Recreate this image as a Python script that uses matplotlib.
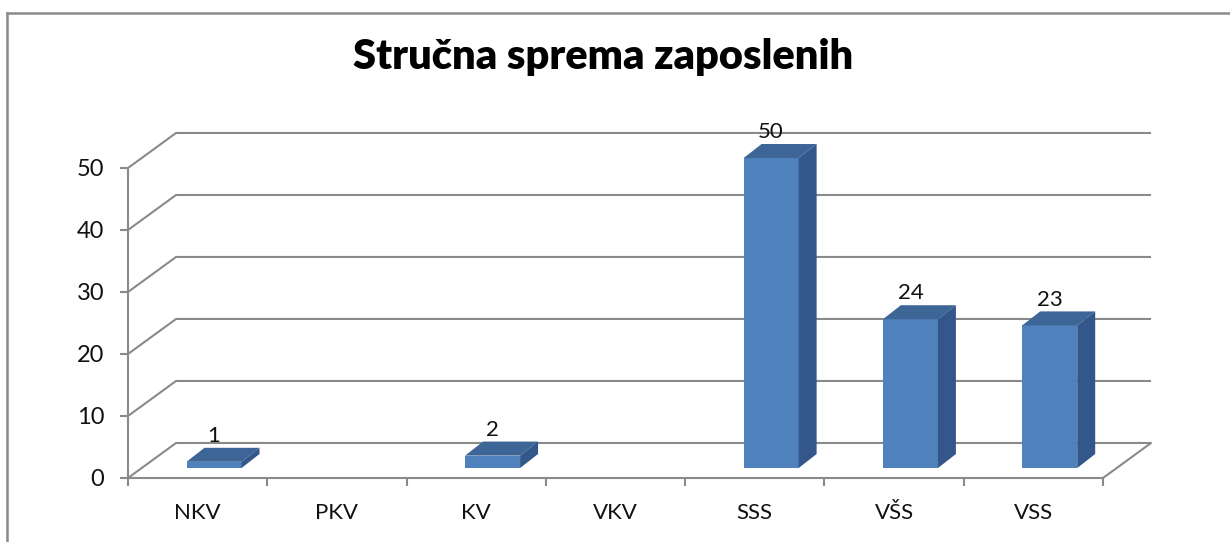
import matplotlib
matplotlib.use("Agg")
import matplotlib.pyplot as plt
from matplotlib.patches import Polygon
from matplotlib.lines import Line2D

plt.rcParams["font.family"] = ["Lato", "DejaVu Sans"]

# chart data
categories = ["NKV", "PKV", "KV", "VKV", "SSS", "VŠS", "VSS"]
values = [1, 0, 2, 0, 50, 24, 23]
y_ticks = [0, 10, 20, 30, 40, 50]
title = "Stručna sprema zaposlenih"

GRID = "#8a8a8a"
FRONT = "#4f81bd"
TOP = "#3d6696"
SIDE = "#33578a"
TXT = "#111111"

# pseudo 3d offsets, in data units
WALL_DX, WALL_DY = 0.345, 5.65     # back wall / floor depth
BAR_FY = 1.61                      # bar front sits a bit above the floor edge
BAR_DX, BAR_DY = 0.129, 2.26       # bar depth
BAR_LEFT, BAR_W = 0.42, 0.395

fig = plt.figure(figsize=(12.3, 5.42), dpi=100)
ax = fig.add_axes([128 / 1230, 64 / 542, 975 / 1230, 310 / 542])
n = len(categories)
ax.set_xlim(0, n)
ax.set_ylim(0, 50)

# back wall gridlines with the diagonal going back from the axis
for v in y_ticks:
    xs = [0, WALL_DX, n + WALL_DX]
    ys = [v, v + WALL_DY, v + WALL_DY]
    if v == 0:
        xs.append(n)
        ys.append(0)
    ax.plot(xs, ys, color=GRID, lw=1.5, clip_on=False, zorder=1,
            solid_capstyle="butt")

# bars: front face through ax.bar, then top and side faces
lefts = [i + BAR_LEFT for i in range(n)]
ax.bar(lefts, values, width=BAR_W, bottom=BAR_FY, align="edge",
       color=FRONT, linewidth=0, clip_on=False, zorder=3)
for x0, v in zip(lefts, values):
    if v == 0:
        continue
    x1 = x0 + BAR_W
    top = v + BAR_FY
    ax.add_patch(Polygon([(x0, top), (x1, top), (x1 + BAR_DX, top + BAR_DY),
                          (x0 + BAR_DX, top + BAR_DY)],
                         closed=True, facecolor=TOP, lw=0, clip_on=False, zorder=3))
    ax.add_patch(Polygon([(x1, BAR_FY), (x1, top), (x1 + BAR_DX, top + BAR_DY),
                          (x1 + BAR_DX, BAR_FY + BAR_DY)],
                         closed=True, facecolor=SIDE, lw=0, clip_on=False, zorder=3))
    ax.text(x0 + BAR_W / 2, top + BAR_DY + 0.3, str(v), ha="center",
            va="bottom", fontsize=16, color=TXT, zorder=4)

# axes look
for s in ["top", "right"]:
    ax.spines[s].set_visible(False)
for s in ["left", "bottom"]:
    ax.spines[s].set_color(GRID)
    ax.spines[s].set_linewidth(1.5)
ax.patch.set_alpha(0)

ax.set_yticks(y_ticks)
ax.tick_params(axis="y", length=6, width=1.5, color=GRID, pad=11,
               labelsize=17, labelcolor=TXT)
ax.set_xticks([i + 0.5 for i in range(n)])
ax.set_xticklabels(categories)
ax.set_xticks(range(n + 1), minor=True)
ax.tick_params(axis="x", which="major", length=0, pad=18,
               labelsize=16, labelcolor=TXT)
ax.tick_params(axis="x", which="minor", length=6, width=1.5, color=GRID)

fig.text(603 / 1230, 1 - 69 / 542, title, ha="center", va="baseline",
         fontsize=30, fontweight="heavy", color="black")

# chart frame, cut at right and bottom like the screenshot
fig.add_artist(Line2D([7 / 1230, 7 / 1230], [0, 1 - 13 / 542],
                      color="#8a8a8a", lw=1.8, transform=fig.transFigure))
fig.add_artist(Line2D([7 / 1230, 1], [1 - 13 / 542, 1 - 13 / 542],
                      color="#8a8a8a", lw=1.8, transform=fig.transFigure))

fig.savefig("out.png", dpi=100)
